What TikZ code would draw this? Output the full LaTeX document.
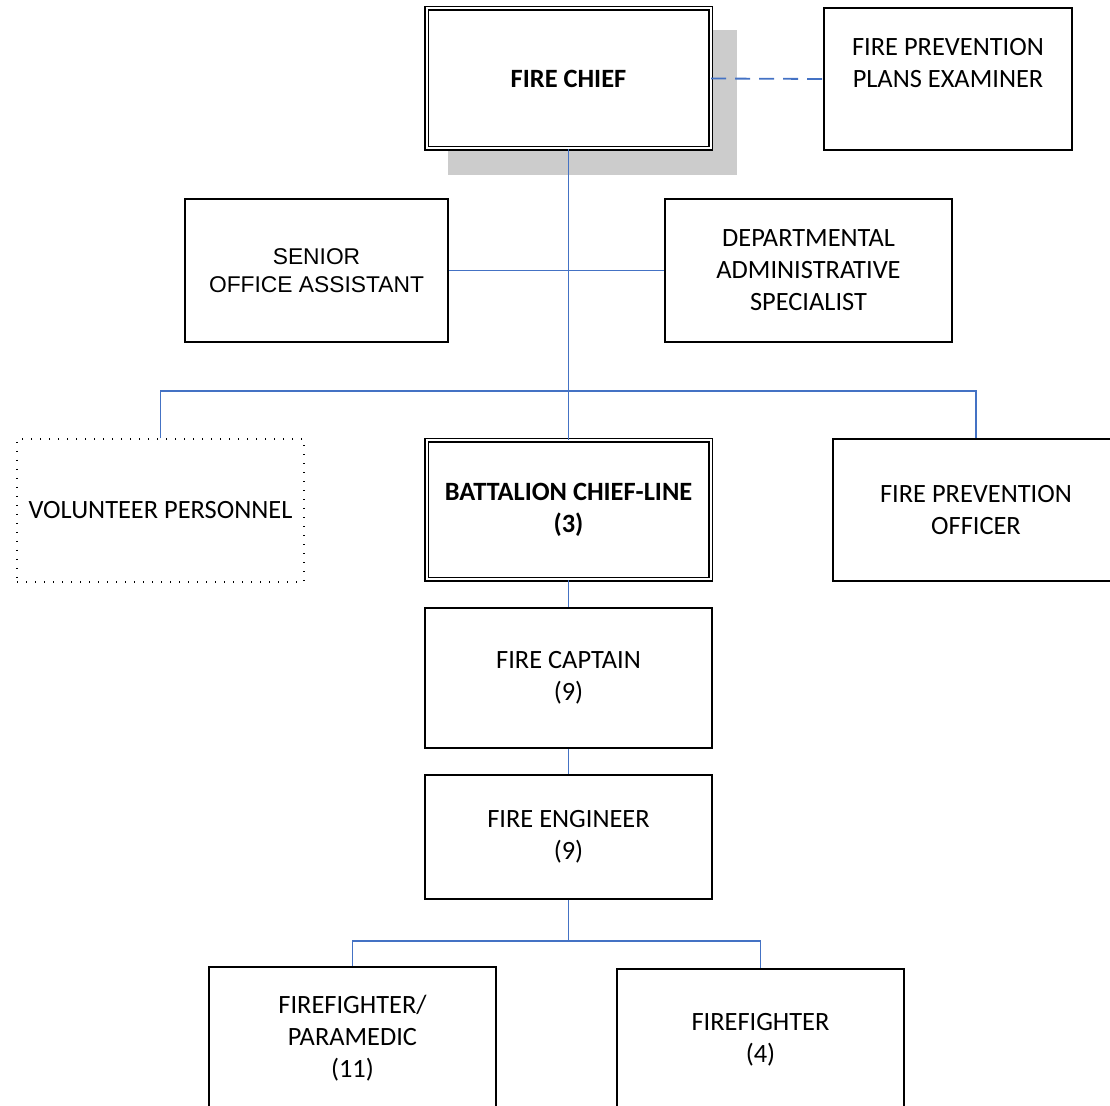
\documentclass[tikz,border=0pt]{standalone}
\usepackage{fontspec}
\setmainfont{Carlito}
\newfontfamily\arialish{Liberation Sans}
\definecolor{linkblue}{RGB}{68,114,196}
\definecolor{shadowgray}{RGB}{204,204,204}
\begin{document}
\begin{tikzpicture}[x=0.5pt,y=-0.5pt,
  box/.style={draw, fill=white, line width=0.9pt, inner sep=0pt, align=center,
    font=\fontsize{13.2}{16}\selectfont},
  dblbox/.style={box, double, double distance=1pt, line width=0.7pt,
    font=\fontsize{13.2}{16}\selectfont\bfseries},
  dotbox/.style={box, line width=0.65pt, dash pattern=on 0.65pt off 3.85pt},
  label text/.style={inner sep=0pt, align=center, font=\fontsize{13.2}{16}\selectfont},
  link/.style={draw=linkblue, line width=0.9pt},
  dashlink/.style={link, dash pattern=on 7.5pt off 4.5pt},
]
\useasboundingbox (0,0) rectangle (1110,1106);
\clip (0,0) rectangle (1110,1106);

% drop shadow behind the chief's box
\fill[shadowgray] (448,30) rectangle (737,175);

% boxes
\node[dblbox, minimum width=142pt, minimum height=70pt] (chief) at (568.5,78.5) {FIRE CHIEF};
\node[box, minimum width=124pt, minimum height=71pt] (examiner) at (948,79) {};
\node[label text] (examinertext) at (948,63) {FIRE PREVENTION\\PLANS EXAMINER};
\node[box, minimum width=131.5pt, minimum height=71.5pt,
  font=\arialish\fontsize{11.4}{14}\selectfont] (assistant) at (316.5,270.5) {SENIOR\\OFFICE ASSISTANT};
\node[box, minimum width=143.5pt, minimum height=71.5pt] (specialist) at (808.5,270.5)
  {DEPARTMENTAL\\ADMINISTRATIVE\\SPECIALIST};
\node[dotbox, minimum width=143.5pt, minimum height=71.5pt] (volunteer) at (160.5,510.5) {VOLUNTEER PERSONNEL};
\node[dblbox, minimum width=142pt, minimum height=69.5pt] (battalion) at (568.5,510) {BATTALION CHIEF-LINE\\(3)};
\node[box, minimum width=143pt, minimum height=71pt] (officer) at (976,510) {FIRE PREVENTION\\OFFICER};
\node[box, minimum width=143.5pt, minimum height=70pt] (captain) at (568.5,678) {FIRE CAPTAIN\\(9)};
\node[box, minimum width=143.5pt, minimum height=62pt] (engineer) at (568.5,837) {FIRE ENGINEER\\(9)};
\node[box, minimum width=143.5pt, minimum height=71pt] (paramedic) at (352.5,1038) {FIREFIGHTER/\\PARAMEDIC\\(11)};
\node[box, minimum width=143.5pt, minimum height=71pt] (firefighter) at (760.5,1040) {FIREFIGHTER\\(4)};

% junction points of the reporting lines
\coordinate (bus) at (568.5,391);
\coordinate (split) at (568.5,941);

% reporting lines
\draw[dashlink] (chief.east) -- (examiner.west);
\draw[link] (chief.south) -- (battalion.north);
\draw[link] (assistant.east) -- (specialist.west);
\draw[link] (volunteer.north) |- (bus) -| (officer.north);
\draw[link] (battalion.south) -- (captain.north);
\draw[link] (captain.south) -- (engineer.north);
\draw[link] (engineer.south) -- (split);
\draw[link] (paramedic.north) |- (split) -| (firefighter.north);
\end{tikzpicture}
\end{document}
